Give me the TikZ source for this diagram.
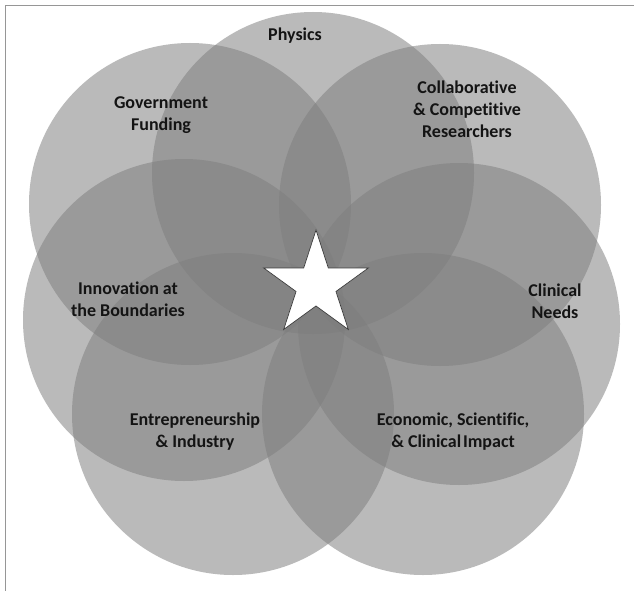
\documentclass[tikz,border=0pt]{standalone}
\usepackage{fontspec}
\setmainfont{Carlito}[BoldFont={Carlito Bold},RawFeature=-liga]
\usetikzlibrary{shapes.geometric}
\definecolor{circgray}{RGB}{126,126,126}
\definecolor{framegray}{RGB}{150,150,150}
\definecolor{txt}{RGB}{20,20,20}
\definecolor{staredge}{RGB}{60,60,60}
\tikzset{
  bubble/.style={circle, minimum size=322pt, inner sep=0pt, fill=circgray, fill opacity=0.535, draw=none},
  lbl/.style={align=center, text=txt, font=\fontsize{18}{22}\selectfont\bfseries, inner sep=0pt},
  starshape/.style={star, star points=5, star point ratio=2.62, minimum size=110pt, inner sep=0pt, fill=white, draw=staredge, line width=0.7pt},
  framestyle/.style={draw=framegray, line width=1pt}
}
\begin{document}
\begin{tikzpicture}[x=1pt,y=-1pt]
\useasboundingbox (0,0) rectangle (634,591);
\fill[white] (0,0) rectangle (634,591);
% frame
\coordinate (fbl) at (5,591);
\coordinate (ftl) at (5,6);
\coordinate (ftr) at (634,6);
\draw[framestyle] (fbl) -- (ftl) -- (ftr);
% circles
\node[bubble] (phys) at (313,173) {};
\node[bubble] (gov) at (190,204) {};
\node[bubble] (collab) at (440,205) {};
\node[bubble] (innov) at (184,320) {};
\node[bubble] (clin) at (459,324) {};
\node[bubble] (entre) at (233,414) {};
\node[bubble] (econ) at (423,414) {};
% star
\node[starshape] (star) at (316,285) {};
% labels
\node[lbl] (tphys) at (295,36) {Physics};
\node[lbl] (tgov) at (161,115) {Government\\Funding};
\node[lbl] (tcollab) at (467,109) {Collaborative\\\& Competitive\\Researchers};
\node[lbl] (tinnov) at (128,299) {Innovation at\\the Boundaries};
\node[lbl] (tclin) at (555,301) {Clinical\\Needs};
\node[lbl] (tentre) at (195,432) {Entrepreneurship\\\& Industry};
\node[lbl] (tecon) at (453,432) {Economic, Scientific,\\\& Clinical\hspace{0.1em}Impact};
\end{tikzpicture}
\end{document}
